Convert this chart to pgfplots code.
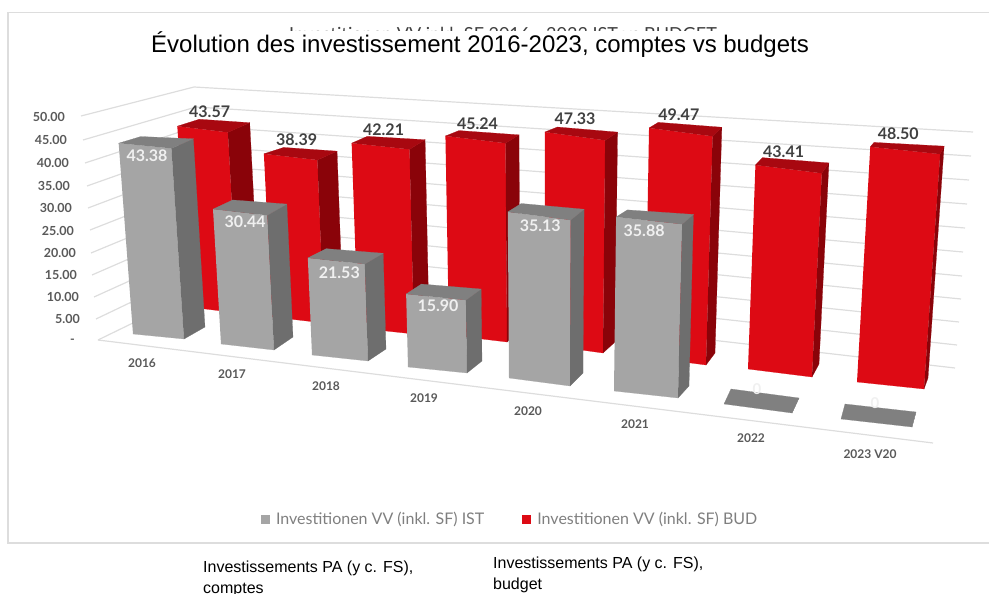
\documentclass[border=0pt]{standalone}
\usepackage{fontspec}
\setmainfont{Lato}
\newfontfamily\arialfont{Liberation Sans}
\usepackage{pgfplots}
\pgfplotsset{compat=1.18}

\definecolor{redfront}{HTML}{DD0A14}
\definecolor{redside}{HTML}{8A0309}
\definecolor{redtop}{HTML}{A80810}
\definecolor{grayfront}{HTML}{A5A5A5}
\definecolor{grayside}{HTML}{6E6E6E}
\definecolor{graytop}{HTML}{808080}
\definecolor{gridc}{HTML}{DDDDDD}
\definecolor{labelc}{HTML}{404040}
\definecolor{tickc}{HTML}{595959}
\definecolor{legc}{HTML}{7F7F7F}

\tikzset{
    redlab/.style={text=labelc,font=\fontsize{16}{16}\bfseries\selectfont,inner sep=0pt},
    graylab/.style={text=white!94!black,font=\fontsize{16}{16}\bfseries\selectfont,inner sep=0pt},
    ticklab/.style={text=tickc,anchor=east,font=\fontsize{12.5}{14}\bfseries\selectfont,inner sep=0pt},
    catlab/.style={text=tickc,font=\fontsize{12}{14}\bfseries\selectfont,inner sep=0pt},
}

% all verticals of the 3D view run through this point (pixels)
\def\vpx{548}
\def\vpy{5857}

% value, base front-left x y, front-right x y, back-right x y, px per unit, colour
\newcommand{\drawbar}[9]{%
  \def\barval{#1}%
  \pgfmathsetmacro{\barr}{1+#1*#8/(\vpy-#3)}%
  % the back corners rise a little less than the front ones
  \pgfmathsetmacro{\barbr}{1+0.985*#1*#8/(\vpy-#3)}%
  \pgfmathsetmacro{\barbl}{1+0.97*#1*#8/(\vpy-#3)}%
  \pgfmathsetmacro{\blx}{#2+#6-#4}%
  \pgfmathsetmacro{\bly}{#3+#7-#5}%
  \pgfmathsetmacro{\tflx}{\vpx+(#2-\vpx)*\barr}%
  \pgfmathsetmacro{\tfly}{\vpy+(#3-\vpy)*\barr}%
  \pgfmathsetmacro{\tfrx}{\vpx+(#4-\vpx)*\barr}%
  \pgfmathsetmacro{\tfry}{\vpy+(#5-\vpy)*\barr}%
  \pgfmathsetmacro{\tbrx}{\vpx+(#6-\vpx)*\barbr}%
  \pgfmathsetmacro{\tbry}{\vpy+(#7-\vpy)*\barbr}%
  \pgfmathsetmacro{\tblx}{\vpx+(\blx-\vpx)*\barbl}%
  \pgfmathsetmacro{\tbly}{\vpy+(\bly-\vpy)*\barbl}%
  \pgfmathsetmacro{\midx}{(\tflx+\tfrx)/2}%
  \pgfmathsetmacro{\midy}{(\tfly+\tfry)/2}%
  \addplot[fill=#9front,draw=#9front,line width=.2pt,forget plot] coordinates {(\tflx,\tfly) (\tfrx,\tfry) (#4,#5) (#2,#3)};
  \addplot[fill=#9side,draw=#9side,line width=.2pt,forget plot] coordinates {(\tfrx,\tfry) (\tbrx,\tbry) (#6,#7) (#4,#5)};
  \addplot[fill=#9top,draw=#9top,line width=.2pt,forget plot] coordinates {(\tflx,\tfly) (\tblx,\tbly) (\tbrx,\tbry) (\tfrx,\tfry)};
}
% value label of the bar just drawn, offset from the middle of its top front edge
\newcommand{\barlabel}[3]{%
  \pgfmathsetmacro{\lblx}{\midx+#2}%
  \pgfmathsetmacro{\lbly}{\midy+#3}%
  \edef\tmp{\noexpand\node[#1] at (axis cs:\lblx,\lbly) {\barval};}\tmp
}
\newcommand{\gridrow}[6]{%
  \addplot[gridc,line width=1.2pt,forget plot] coordinates {(#1,#2) (#3,#4) (#5,#6)};
}

\begin{document}
\begin{tikzpicture}
\clip[use as bounding box] (0,0) rectangle (989pt,594pt);
\begin{axis}[
    scale only axis, width=989pt, height=594pt,
    xmin=0, xmax=989, ymin=0, ymax=594, y dir=reverse,
    axis lines=none, clip=false,
    legend style={at={(axis cs:261,519)}, anchor=west, draw=none, fill=none,
        legend columns=2, text=legc,
        font=\fontsize{16}{18}\selectfont,
        /tikz/every even column/.style={column sep=36pt},
        inner sep=0pt, outer sep=0pt},
    legend image code/.code={\path[#1,draw=none] (0pt,-4.5pt) rectangle (9pt,4.5pt);},
]
% frame
\addplot[gridc,line width=1.5pt,forget plot] coordinates {(989,12.5) (8,12.5) (8,543) (989,543)};

% title hidden behind the new one
\node[anchor=base west,inner sep=0pt,text=labelc,font=\fontsize{18}{20}\selectfont] at (axis cs:289,41) {Investitionen VV inkl. SF 2016 - 2023 IST vs BUDGET};
\fill[white] (axis cs:200,31) rectangle (axis cs:800,62);
\node[anchor=base west,inner sep=0pt,font=\arialfont\fontsize{24}{26}\selectfont] at (axis cs:151,53) {Évolution des investissement 2016-2023, comptes vs budgets};

% walls and floor
\gridrow{81}{116}{194}{87}{973}{132}
\gridrow{83}{140}{196}{107}{971}{156}
\gridrow{85}{163}{198}{126}{969}{180}
\gridrow{87}{186}{200}{146}{967}{204}
\gridrow{88}{208}{202}{165}{965}{228}
\gridrow{90}{230}{204.5}{185}{963}{252}
\gridrow{91}{253}{207}{205}{962}{276}
\gridrow{92}{275}{209}{224}{961}{299}
\gridrow{94}{297}{211}{244}{959}{322}
\gridrow{96}{319}{213}{263}{957}{345}
\gridrow{98}{340}{215}{283}{955}{368}
\addplot[gridc,line width=1.2pt,forget plot] coordinates {(98,340) (933,443)};

% budget bars, back row
\drawbar{43.57}{189}{307}{238}{313}{259}{301}{4.15}{red}
\barlabel{redlab}{7}{-18}
\drawbar{38.39}{272}{317}{324}{323}{343}{312}{4.25}{red}
\barlabel{redlab}{6}{-17}
\drawbar{42.21}{358}{328}{414}{334}{429}{322}{4.38}{red}
\barlabel{redlab}{3}{-17}
\drawbar{45.24}{449}{335}{507}{342}{520}{331}{4.40}{red}
\barlabel{redlab}{2}{-16}
\drawbar{47.33}{545}{345}{603}{353}{615}{342}{4.50}{red}
\barlabel{redlab}{0}{-17}
\drawbar{49.47}{645}{357}{706}{365}{715}{353}{4.63}{red}
\barlabel{redlab}{-2}{-17}
\drawbar{43.41}{748}{369}{812}{377}{819}{364}{4.70}{red}
\barlabel{redlab}{-5}{-17}
\drawbar{48.50}{857}{382}{924}{389}{928}{378}{4.85}{red}
\barlabel{redlab}{-7}{-17}

% actuals, front row
\drawbar{43.38}{133}{334}{184}{339}{205}{327}{4.40}{gray}
\barlabel{graylab}{2}{10}
\drawbar{30.44}{221}{344}{274}{350}{293}{337}{4.43}{gray}
\barlabel{graylab}{5}{9}
\drawbar{21.53}{312}{355}{368}{361}{386}{349}{4.51}{gray}
\barlabel{graylab}{3}{12}
\drawbar{15.90}{408}{367}{467}{373}{482}{361}{4.59}{gray}
\barlabel{graylab}{2}{9}
\drawbar{35.13}{509}{378}{570}{386}{583}{373}{4.73}{gray}
\barlabel{graylab}{1}{10}
\drawbar{35.88}{614}{391}{678}{398}{689}{386}{4.85}{gray}
\barlabel{graylab}{-5}{10}
\drawbar{0}{724}{404}{792}{413}{799}{398}{4.9}{gray}
\node[text=white!94!black,inner sep=0pt,font=\fontsize{15}{16}\bfseries\selectfont] at (axis cs:757,389) {0};
\drawbar{0}{841}{419}{912}{427}{916}{412}{5}{gray}
\node[text=white!94!black,inner sep=0pt,font=\fontsize{15}{16}\bfseries\selectfont] at (axis cs:875,403) {0};

% value axis
\node[ticklab] at (axis cs:65,117) {50.00};
\node[ticklab] at (axis cs:67,140) {45.00};
\node[ticklab] at (axis cs:69,163) {40.00};
\node[ticklab] at (axis cs:70,186) {35.00};
\node[ticklab] at (axis cs:72,208) {30.00};
\node[ticklab] at (axis cs:74,231) {25.00};
\node[ticklab] at (axis cs:76,253) {20.00};
\node[ticklab] at (axis cs:77,275) {15.00};
\node[ticklab] at (axis cs:79,297) {10.00};
\node[ticklab] at (axis cs:80,319) {5.00};
\node[ticklab] at (axis cs:75,341) {-};

% categories
\node[catlab] at (axis cs:142,363) {2016};
\node[catlab] at (axis cs:232,374) {2017};
\node[catlab] at (axis cs:326,386) {2018};
\node[catlab] at (axis cs:424,398) {2019};
\node[catlab] at (axis cs:528,411) {2020};
\node[catlab] at (axis cs:635,424) {2021};
\node[catlab] at (axis cs:751,438) {2022};
\node[catlab] at (axis cs:870,454) {2023 V20};

% notes under the chart
\node[anchor=base west,inner sep=0pt,font=\arialfont\fontsize{16}{18}\selectfont] at (axis cs:203,572) {Investissements PA (y c. FS),};
\node[anchor=base west,inner sep=0pt,font=\arialfont\fontsize{16}{18}\selectfont] at (axis cs:203,593) {comptes};
\node[anchor=base west,inner sep=0pt,font=\arialfont\fontsize{16}{18}\selectfont] at (axis cs:493,568) {Investissements PA (y c. FS),};
\node[anchor=base west,inner sep=0pt,font=\arialfont\fontsize{16}{18}\selectfont] at (axis cs:493,589) {budget};

\addlegendimage{fill=grayfront}
\addlegendentry{\hspace{4pt}Investitionen VV (inkl. SF) IST}
\addlegendimage{fill=redfront}
\addlegendentry{\hspace{4pt}Investitionen VV (inkl. SF) BUD}
\end{axis}
\end{tikzpicture}
\end{document}
